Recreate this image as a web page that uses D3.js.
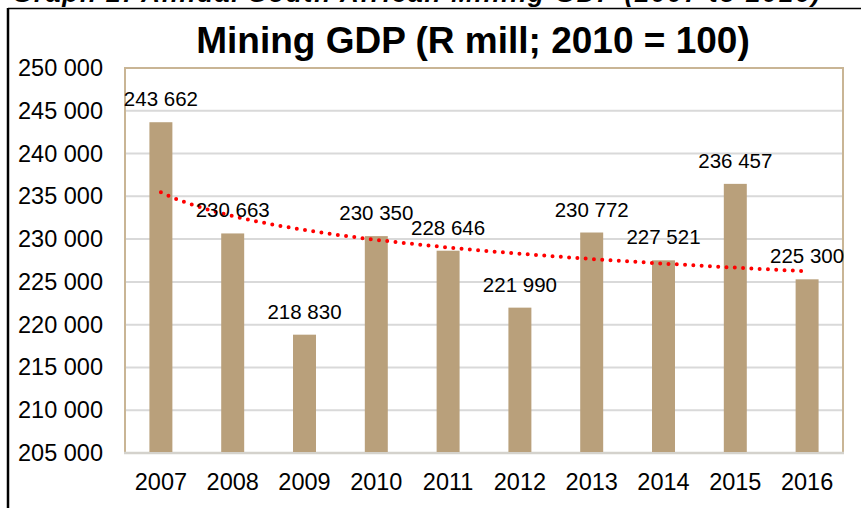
<!DOCTYPE html>
<html>
<head>
<meta charset="utf-8">
<script src="https://cdn.jsdelivr.net/npm/d3@7"></script>
<style>
  body { margin: 0; background: #fff; }
  svg { display: block; font-family: "Liberation Sans", Arial, sans-serif; }
</style>
</head>
<body>
<script>
// chart data
const years = ["2007", "2008", "2009", "2010", "2011", "2012", "2013", "2014", "2015", "2016"];
const miningGdp = [243662, 230663, 218830, 230350, 228646, 221990, 230772, 227521, 236457, 225300];
const yTicks = [205000, 210000, 215000, 220000, 225000, 230000, 235000, 240000, 245000, 250000];
const heading = "Graph 2: Annual South African Mining GDP (2007 to 2016)";
const title = "Mining GDP (R mill; 2010 = 100)";

/** Class representing the chart. */
class Chart {
  constructor() {
    this.width = 861;
    this.height = 508;
    this.margin = { top: 68, right: 18, bottom: 55, left: 125 };
    this.draw();
  }

  draw() {
    this.svg = d3.select("body").append("svg")
      .attr("width", this.width)
      .attr("height", this.height);

    this.createScales();
    this.addFrame();
    this.addAxes();
    this.addBars();
    this.addTrend();
    this.addLabels();
  }

  createScales() {
    const m = this.margin;
    this.xScale = d3.scaleBand()
      .domain(years)
      .range([m.left, this.width - m.right])
      .paddingInner(0.68)
      .paddingOuter(0.34);

    this.yScale = d3.scaleLinear()
      .domain([205000, 250000])
      .range([this.height - m.bottom, m.top]);
  }

  addFrame() {
    // the cut off heading above the box
    this.svg.append("text")
      .attr("x", 12)
      .attr("y", 2)
      .attr("textLength", 808)
      .style("font-size", "26px")
      .style("font-weight", "bold")
      .style("font-style", "italic")
      .text(heading);

    this.svg.append("line")
      .attr("x1", 8).attr("x2", this.width)
      .attr("y1", 8.5).attr("y2", 8.5)
      .attr("stroke", "#000").attr("stroke-width", 1.5);
    this.svg.append("line")
      .attr("x1", 8).attr("x2", 8)
      .attr("y1", 8).attr("y2", this.height)
      .attr("stroke", "#000").attr("stroke-width", 2.5);

    this.svg.append("text")
      .attr("x", 473)
      .attr("y", 53)
      .attr("text-anchor", "middle")
      .style("font-size", "37px")
      .style("font-weight", "bold")
      .text(title);
  }

  addAxes() {
    const m = this.margin;
    const x0 = m.left, x1 = this.width - m.right;

    // gridlines
    this.svg.append("g")
      .selectAll("line")
      .data(yTicks.slice(1, -1))
      .join("line")
      .attr("x1", x0).attr("x2", x1)
      .attr("y1", d => this.yScale(d)).attr("y2", d => this.yScale(d))
      .attr("stroke", "#d9d9d9")
      .attr("stroke-width", 2);

    // plot border (tan on three sides, grey bottom)
    const yTop = this.yScale(250000), yBot = this.yScale(205000);
    this.svg.append("path")
      .attr("d", `M${x0},${yBot}V${yTop}H${x1}V${yBot}`)
      .attr("fill", "none")
      .attr("stroke", "#c9b595")
      .attr("stroke-width", 2);

    const yAxis = d3.axisLeft(this.yScale)
      .tickValues(yTicks)
      .tickSize(0)
      .tickPadding(22)
      .tickFormat(d => d3.format(",")(d).replace(/,/g, " "));

    this.svg.append("g")
      .attr("transform", `translate(${x0},0)`)
      .call(yAxis)
      .call(g => g.select(".domain").remove())
      .call(g => g.selectAll("text")
        .attr("fill", "#000")
        .style("font-size", "23.5px")
        .style("font-family", "Liberation Sans, Arial, sans-serif"));

    const xAxis = d3.axisBottom(this.xScale)
      .tickSize(0)
      .tickPadding(20);

    this.svg.append("g")
      .attr("transform", `translate(0,${yBot})`)
      .call(xAxis)
      .call(g => g.select(".domain").remove())
      .call(g => g.selectAll("text")
        .attr("fill", "#000")
        .style("font-size", "23.5px")
        .style("font-family", "Liberation Sans, Arial, sans-serif"));

    this.svg.append("line")
      .attr("x1", x0 - 1).attr("x2", x1 + 1)
      .attr("y1", yBot).attr("y2", yBot)
      .attr("stroke", "#d4d2cc")
      .attr("stroke-width", 2.5);
  }

  addBars() {
    const yBot = this.yScale(205000);
    this.svg.append("g")
      .selectAll("rect")
      .data(miningGdp)
      .join("rect")
      .attr("x", (d, i) => this.xScale(years[i]))
      .attr("y", d => this.yScale(d))
      .attr("width", this.xScale.bandwidth())
      .attr("height", d => yBot - this.yScale(d) - 1)
      .attr("fill", "#b9a07b");
  }

  addTrend() {
    // excel style logarithmic trendline: y = a + b ln(x)
    const lx = miningGdp.map((d, i) => Math.log(i + 1));
    const mx = d3.mean(lx), my = d3.mean(miningGdp);
    const b = d3.sum(lx, (v, i) => (v - mx) * (miningGdp[i] - my)) /
              d3.sum(lx, v => (v - mx) * (v - mx));
    const a = my - b * mx;

    const half = this.xScale.bandwidth() / 2;
    const xIdx = d3.scaleLinear()
      .domain([1, years.length])
      .range([this.xScale(years[0]) + half, this.xScale(years[years.length - 1]) + half]);

    const pts = d3.range(1, years.length + 0.001, 0.05);
    this.svg.append("path")
      .datum(pts)
      .attr("d", d3.line()
        .x(t => xIdx(t))
        .y(t => this.yScale(a + b * Math.log(t))))
      .attr("fill", "none")
      .attr("stroke", "#ff0000")
      .attr("stroke-width", 4)
      .attr("stroke-linecap", "round")
      .attr("stroke-dasharray", "0 8.3");
  }

  addLabels() {
    const half = this.xScale.bandwidth() / 2;
    this.svg.append("g")
      .selectAll("text")
      .data(miningGdp)
      .join("text")
      .attr("x", (d, i) => this.xScale(years[i]) + half)
      .attr("y", d => this.yScale(d) - 16)
      .attr("text-anchor", "middle")
      .style("font-size", "20.5px")
      .text(d => d3.format(",")(d).replace(/,/g, " "));
  }
}

new Chart();
</script>
</body>
</html>
